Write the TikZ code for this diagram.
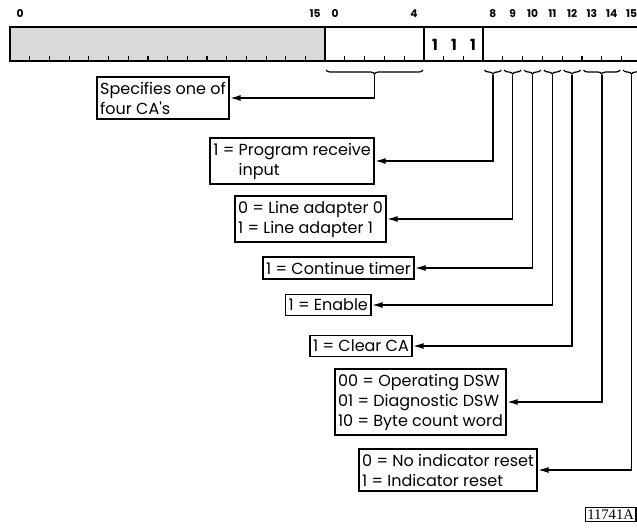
\documentclass[tikz,border=0pt]{standalone}
\usepackage{fontspec}
\setmainfont{Poppins}
\newfontfamily\tagfont{Liberation Serif}
\usetikzlibrary{arrows.meta,decorations.pathreplacing}

\tikzset{
  field/.style={draw, line width=1.3pt},
  msgbox/.style={draw, line width=1.2pt, align=left, inner xsep=2.5pt, inner ysep=3.5pt,
    font=\fontsize{12}{15}\selectfont},
  lead/.style={line width=1.1pt, -{Latex[length=8pt,width=4.5pt]}},
  bitbrace/.style={decorate, decoration={brace, mirror, amplitude=3pt}, line width=0.9pt},
  bitnum/.style={font=\fontsize{8}{9}\selectfont\bfseries},
}

\begin{document}
\begin{tikzpicture}[x=0.75pt,y=-0.75pt]
\useasboundingbox (0,0) rectangle (637,529);

% register fields
\fill[black!15] (10,27) rectangle (325,61);
\draw[field] (10,27) rectangle (325,61);
\draw[field] (325,27) rectangle (424,61);
\draw[field] (424,27) rectangle (483,61);
\draw[field] (637,27) -- (483,27) -- (483,61) -- (637,61);

% bit ticks
\foreach \i in {1,...,15}{
    \draw[line width=0.9pt] (10+19.7*\i,61) -- ++(0,-5);
}
\foreach \i in {1,...,4}{
    \draw[line width=0.9pt] (325+19.8*\i,61) -- ++(0,-5);
}
\foreach \i in {1,2}{
    \draw[line width=0.9pt] (424+19.7*\i,61) -- ++(0,-5);
}
\foreach \i in {1,...,7}{
    \draw[line width=0.9pt] (483+19.8*\i,61) -- ++(0,-5);
}

% fixed ones
\foreach \i in {0,1,2}{
    \node[font=\fontsize{11.5}{12}\selectfont\bfseries] (one\i) at (435+19*\i,45) {1};
}

% bit numbers
\node[bitnum] (h0) at (20,14) {0};
\node[bitnum] (h15) at (315,14) {15};
\node[bitnum] (s0) at (335,14) {0};
\node[bitnum] (s4) at (414,14) {4};
\foreach \i in {8,...,15}{
    \pgfmathsetmacro{\x}{483+19.8*(\i-8)+9.9}
    \node[bitnum] (n\i) at (\x,14) {\i};
}

% braces
\draw[bitbrace] (326,70) -- (423,70);
\coordinate (tca) at (374.5,75);
\foreach \a/\b in {8/8, 9/9, 10/10, 11/11, 12/12, 13/14, 15/15}{
    \pgfmathsetmacro{\xa}{483+19.8*(\a-8)+1.5}
    \pgfmathsetmacro{\xb}{483+19.8*(\b-7)-1.5}
    \draw[bitbrace] (\xa,70) -- (\xb,70);
    \coordinate (t\a) at ({(\xa+\xb)/2},75);
}

% meanings
\node[msgbox, anchor=east] (ca) at (230,98) {Specifies one of\\four CA\textquotesingle s};
\node[msgbox, anchor=east] (prog) at (375,161) {1 = Program receive\\\phantom{1 = }input};
\node[msgbox, anchor=east] (adapt) at (387,219) {0 = Line adapter 0\\1 = Line adapter 1};
\node[msgbox, anchor=east] (timer) at (415,268) {1 = Continue timer};
\node[msgbox, anchor=east] (enable) at (372,305) {1 = Enable};
\node[msgbox, anchor=east] (clear) at (413,346) {1 = Clear CA};
\node[msgbox, anchor=east] (dsw) at (507,402) {00 = Operating DSW\\01 = Diagnostic DSW\\10 = Byte count word};
\node[msgbox, anchor=east] (reset) at (538,470) {0 = No indicator reset\\1 = Indicator reset};

\foreach \u/\v in {%
    ca/ca,
    8/prog,
    9/adapt,
    10/timer,
    11/enable,
    12/clear,
    13/dsw,
    15/reset%
    }{
    \draw[lead] (t\u) |- (\v.east);
}

\node[draw, line width=0.8pt, inner sep=1.5pt, anchor=south east,
      font=\tagfont\fontsize{11}{11}\selectfont] (tag) at (636.5,522) {11741A};
\end{tikzpicture}
\end{document}
